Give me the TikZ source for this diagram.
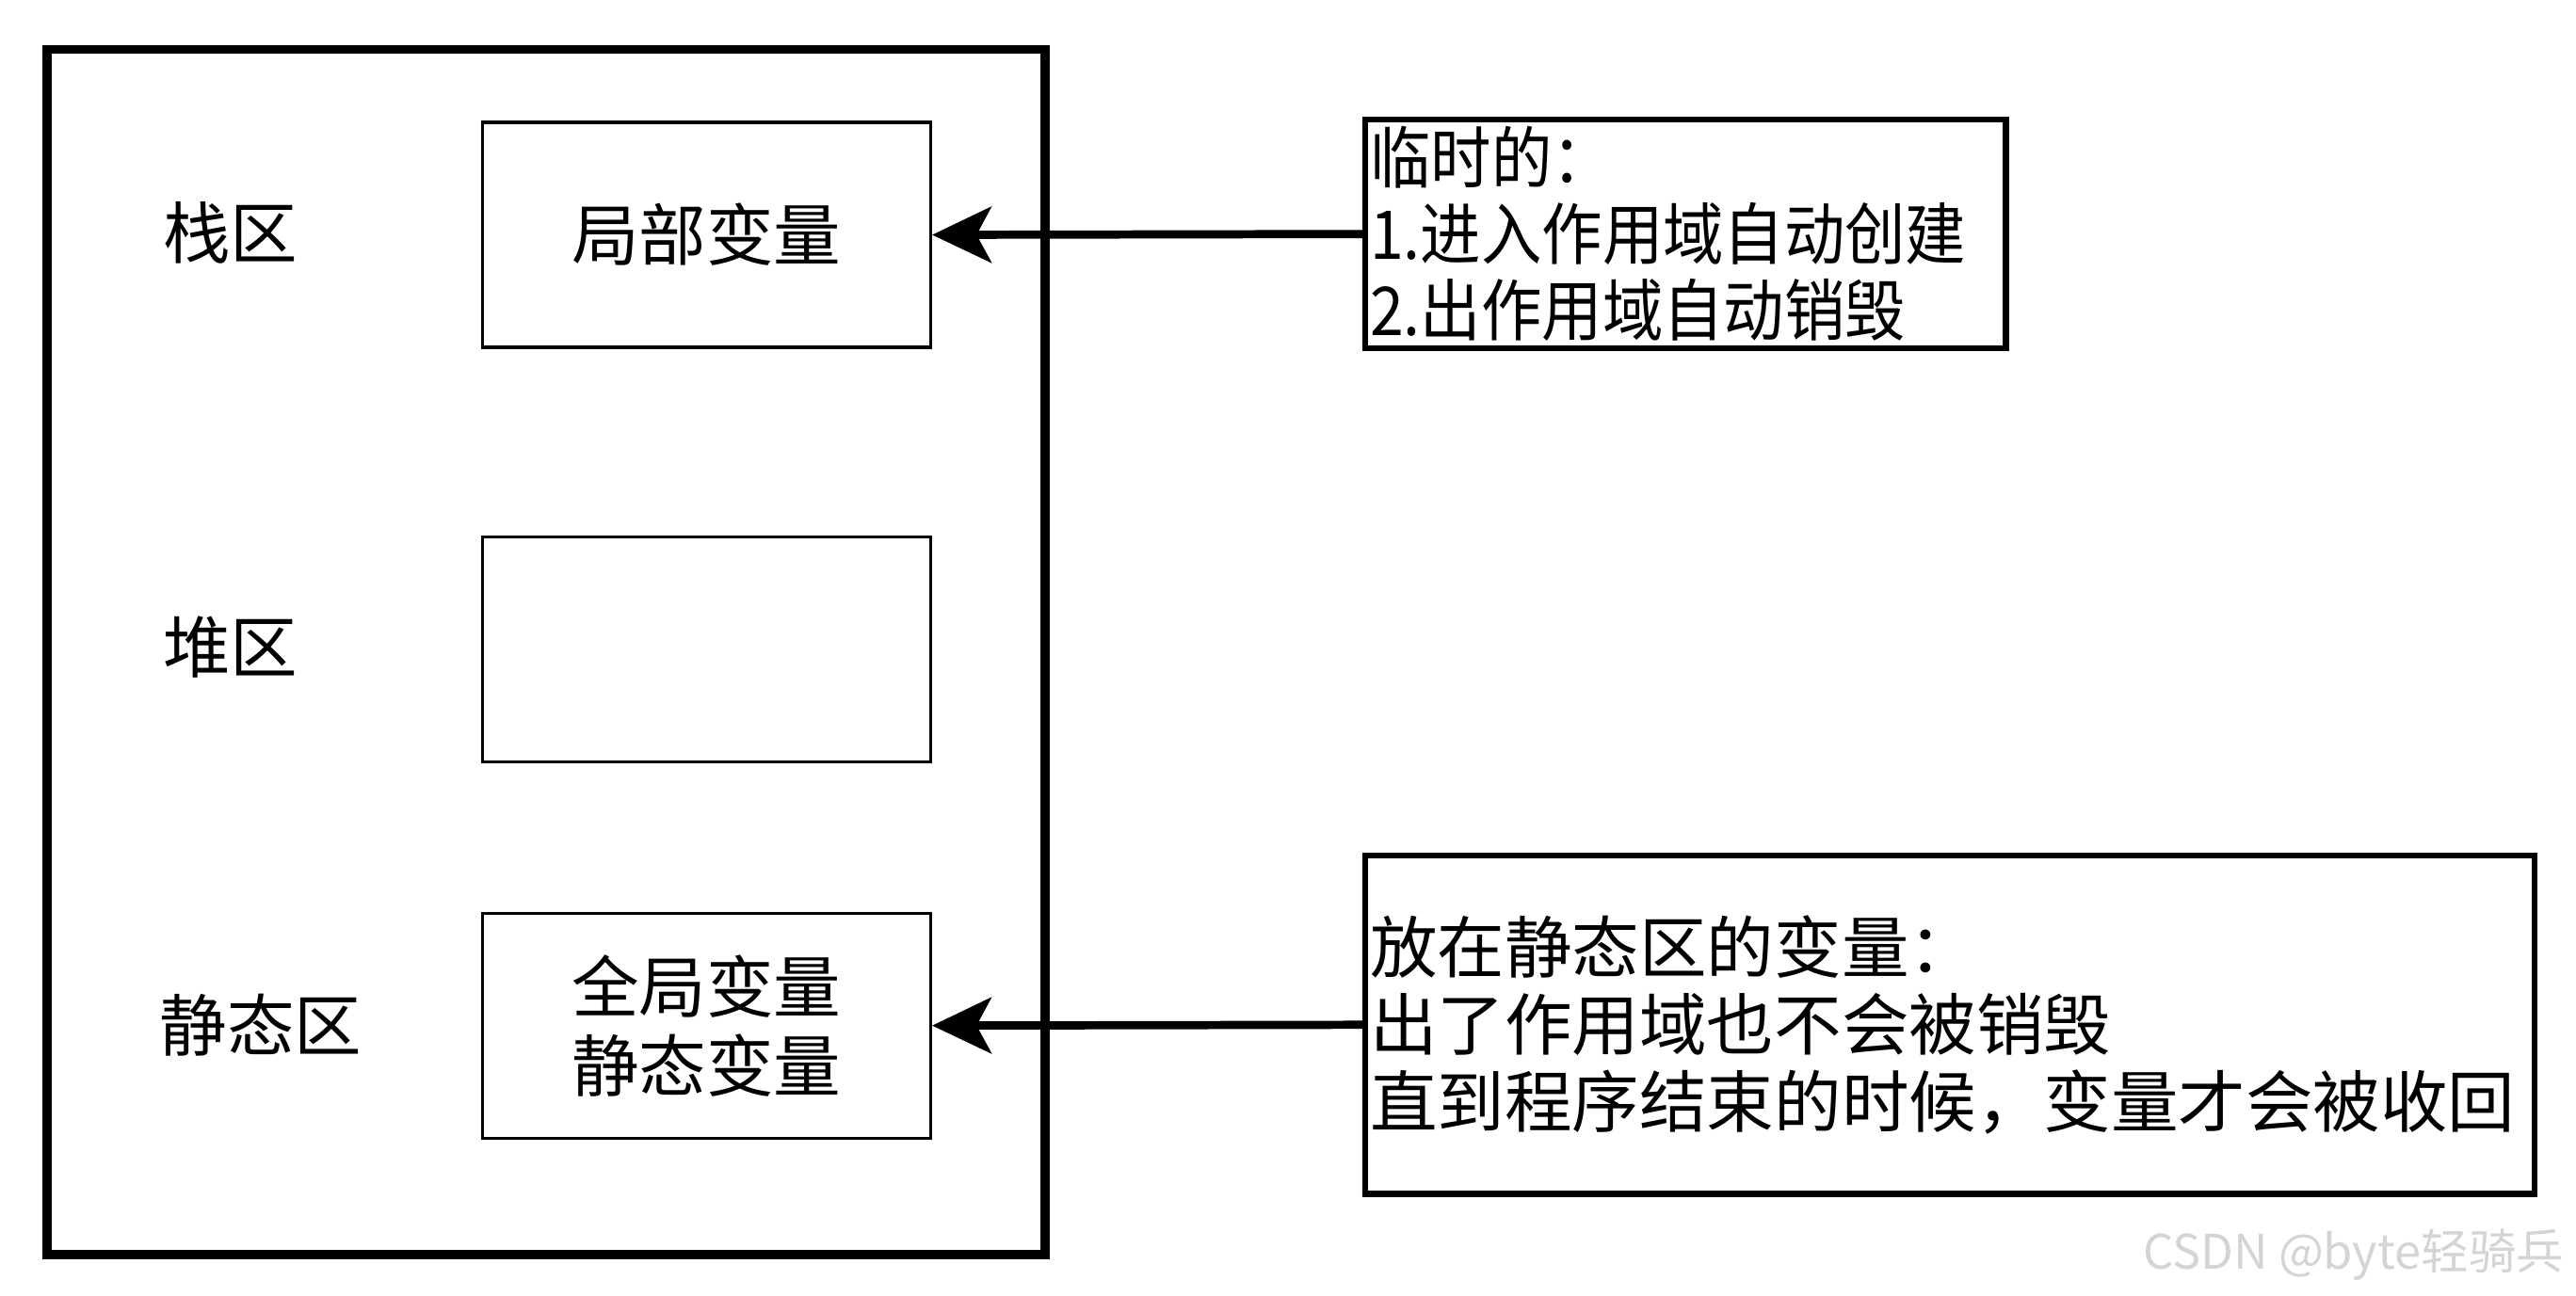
\documentclass[tikz,border=0pt]{standalone}
\usepackage{fontspec}
\setmainfont{Noto Sans CJK SC}
\usepackage{tikz}
\usetikzlibrary{arrows.meta,positioning,calc}

\tikzset{area/.style={
    draw,
    line width=1.8pt,
    minimum width=273pt,
    minimum height=137pt,
    inner sep=0pt,
    align=center,
    font=\fontsize{41}{48}\selectfont,
  }}
\tikzset{note/.style={
    draw,
    line width=3.5pt,
    inner xsep=3pt,
    inner ysep=0pt,
    align=left,
    font=\fontsize{41}{47}\selectfont,
  }}
\tikzset{zone/.style={
    anchor=west,
    inner sep=0pt,
    font=\fontsize{41}{48}\selectfont,
  }}
\tikzset{point/.style={
    -{Stealth[length=36pt,width=34pt,inset=9pt]},
    line width=5pt,
  }}

\begin{document}
\begin{tikzpicture}[x=1pt,y=-1pt]
        \useasboundingbox (0,0) rectangle (1568,788.6);

        \draw [line width=5.5pt] (28.5,30) rectangle (636,764);

        \node (stack) [area] at (430,143) {局部变量};
        \node (heap) [area] at (430,395.5) {};
        \node (static) [area] at (430,624.5) {全局变量\\静态变量};

        \node (stacklbl) [zone] at (99,142) {栈区};
        \node (heaplbl) [zone] at (99,394) {堆区};
        \node (staticlbl) [zone] at (97,624) {静态区};

        \node (tempnote) [note,text width=384pt,minimum height=139pt,
        font=\fontsize{41}{46.5}\selectfont\addfontfeature{FakeStretch=0.9}] at (1026,142.5)
        {临时的：\\1.进入作用域自动创建\\2.出作用域自动销毁};

        \node (keepnote) [note,text width=706pt,minimum height=206pt] at (1187,624)
        {放在静态区的变量：\\出了作用域也不会被销毁\\直到程序结束的时候，变量才会被收回};

        \draw [point] (tempnote.west) -- (stack.east);
        \draw [point] (keepnote.west) -- (static.east);

        \node (mark) [anchor=east,inner sep=0pt,text=black!17,font=\fontsize{29}{34}\selectfont] at (1561,764) {CSDN @byte轻骑兵};
      \end{tikzpicture}
\end{document}
